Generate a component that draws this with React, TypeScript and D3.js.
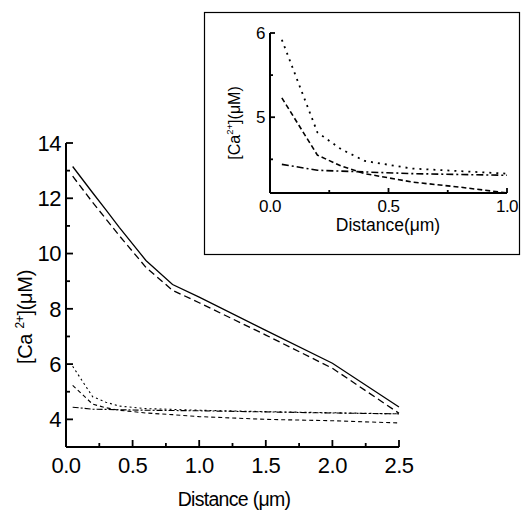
import React, { useRef, useEffect } from 'react';
import * as d3 from 'd3';

// distance (um) sampled along the dendrite
const distances = [0.05, 0.2, 0.3, 0.4, 0.6, 0.8, 1.0, 1.5, 2.0, 2.5];

// [Ca2+] (uM) for each trace
const solidTrace = [13.15, 12.2, 11.58, 10.95, 9.75, 8.88, 8.42, 7.22, 6.03, 4.45];
const longDashTrace = [12.8, 11.85, 11.25, 10.65, 9.5, 8.67, 8.22, 7.05, 5.85, 4.22];
const dottedTrace = [5.92, 4.82, 4.62, 4.48, 4.39, 4.36, 4.33, 4.28, 4.24, 4.2];
const dashedTrace = [5.23, 4.55, 4.42, 4.33, 4.23, 4.17, 4.1, 4.0, 3.95, 3.87];
const dashDotTrace = [4.44, 4.37, 4.36, 4.35, 4.33, 4.32, 4.31, 4.27, 4.23, 4.2];

const mainXTicks = [0, 0.5, 1.0, 1.5, 2.0, 2.5];
const mainXMinor = [0.25, 0.75, 1.25, 1.75, 2.25];
const mainYTicks = [4, 6, 8, 10, 12, 14];
const mainYMinor = [3, 5, 7, 9, 11, 13];

const insetXTicks = [0, 0.5, 1.0];
const insetXMinor = [0.25, 0.75];
const insetYTicks = [5, 6];
const insetYMinor = [4.5, 5.5];

const FONT = '"Liberation Sans", Arial, sans-serif';

type Trace = { values: number[]; dash: string; width: number };

const mainTraces: Trace[] = [
  { values: solidTrace, dash: '', width: 1.3 },
  { values: longDashTrace, dash: '7,4', width: 1.3 },
  { values: dottedTrace, dash: '2,3', width: 1.1 },
  { values: dashedTrace, dash: '4,3', width: 1.1 },
  { values: dashDotTrace, dash: '6,2,2,2', width: 1.1 },
];

const insetTraces: Trace[] = [
  { values: dottedTrace, dash: '2,5', width: 1.8 },
  { values: dashedTrace, dash: '5,3', width: 1.6 },
  { values: dashDotTrace, dash: '7,3,2,3', width: 1.6 },
];

const App = () => {
  const svgRef = useRef<SVGSVGElement>(null);

  useEffect(() => {
    const svg = d3.select(svgRef.current);
    svg.selectAll('*').remove();

    const drawPanel = (
      g: d3.Selection<SVGGElement, unknown, null, undefined>,
      x: d3.ScaleLinear<number, number>,
      y: d3.ScaleLinear<number, number>,
      opts: {
        xTicks: number[]; xMinor: number[]; yTicks: number[]; yMinor: number[];
        traces: Trace[]; maxX: number; fontSize: number;
        major: number; minor: number; xPad: number; yPad: number;
      }
    ) => {
      const [y0, y1] = y.range();
      const [x0, x1] = x.range();

      // axis lines
      g.append('line').attr('x1', x0).attr('x2', x1).attr('y1', y0).attr('y2', y0)
        .attr('stroke', '#000').attr('stroke-width', 2);
      g.append('line').attr('x1', x0).attr('x2', x0).attr('y1', y0).attr('y2', y1)
        .attr('stroke', '#000').attr('stroke-width', 2);

      // ticks pointing into the plot
      const xt = opts.xTicks.map(v => ({ v, len: opts.major }))
        .concat(opts.xMinor.map(v => ({ v, len: opts.minor })));
      g.selectAll('.xtick').data(xt).join('line')
        .attr('class', 'xtick')
        .attr('x1', d => x(d.v)).attr('x2', d => x(d.v))
        .attr('y1', y0).attr('y2', d => y0 - d.len)
        .attr('stroke', '#000').attr('stroke-width', 1.8);
      const yt = opts.yTicks.map(v => ({ v, len: opts.major }))
        .concat(opts.yMinor.map(v => ({ v, len: opts.minor })));
      g.selectAll('.ytick').data(yt).join('line')
        .attr('class', 'ytick')
        .attr('x1', x0).attr('x2', d => x0 + d.len)
        .attr('y1', d => y(d.v)).attr('y2', d => y(d.v))
        .attr('stroke', '#000').attr('stroke-width', 1.8);

      // tick labels
      g.selectAll('.xlab').data(opts.xTicks).join('text')
        .attr('class', 'xlab')
        .attr('x', d => x(d)).attr('y', y0 + opts.xPad)
        .attr('dy', '0.71em')
        .attr('text-anchor', 'middle')
        .attr('font-family', FONT).attr('font-size', opts.fontSize)
        .attr('letter-spacing', -0.5)
        .text(d => d3.format('.1f')(d));
      g.selectAll('.ylab').data(opts.yTicks).join('text')
        .attr('class', 'ylab')
        .attr('x', x0 - opts.yPad).attr('y', d => y(d))
        .attr('dy', '0.35em')
        .attr('text-anchor', 'end')
        .attr('font-family', FONT).attr('font-size', opts.fontSize)
        .attr('letter-spacing', -0.5)
        .text(d => d3.format('d')(d));

      const lineGen = d3.line<[number, number]>()
        .x(d => x(d[0]))
        .y(d => y(d[1]));

      opts.traces.forEach(t => {
        const pts = distances
          .map((d, i) => [d, t.values[i]] as [number, number])
          .filter(p => p[0] <= opts.maxX + 1e-9);
        g.append('path')
          .datum(pts)
          .attr('d', lineGen)
          .attr('fill', 'none')
          .attr('stroke', '#000')
          .attr('stroke-width', t.width)
          .attr('stroke-dasharray', t.dash || null);
      });
    };

    // main panel
    const xMain = d3.scaleLinear().domain([0, 2.5]).range([66, 399]);
    const yMain = d3.scaleLinear().domain([3, 14]).range([447, 143]);
    const main = svg.append('g');
    drawPanel(main, xMain, yMain, {
      xTicks: mainXTicks, xMinor: mainXMinor, yTicks: mainYTicks, yMinor: mainYMinor,
      traces: mainTraces, maxX: 2.5, fontSize: 22,
      major: 7, minor: 4, xPad: 10, yPad: 5,
    });

    // inset panel
    svg.append('rect')
      .attr('x', 204.5).attr('y', 12.5).attr('width', 315).attr('height', 242)
      .attr('fill', '#fff').attr('stroke', '#000').attr('stroke-width', 1.2);
    const xIn = d3.scaleLinear().domain([0, 1]).range([270, 507]);
    const yIn = d3.scaleLinear().domain([4.1, 6]).range([193, 33]);
    const inset = svg.append('g');
    drawPanel(inset, xIn, yIn, {
      xTicks: insetXTicks, xMinor: insetXMinor, yTicks: insetYTicks, yMinor: insetYMinor,
      traces: insetTraces, maxX: 1.0, fontSize: 17,
      major: 5, minor: 3, xPad: 7, yPad: 5,
    });

    // axis titles
    const addTitle = (
      xPos: number, yPos: number, size: number, rotate: boolean, spacing: number,
      parts: { t: string; sup?: boolean }[]
    ) => {
      const text = svg.append('text')
        .attr('transform', `translate(${xPos},${yPos})${rotate ? ' rotate(-90)' : ''}`)
        .attr('text-anchor', 'middle')
        .attr('font-family', FONT)
        .attr('font-size', size)
        .attr('letter-spacing', spacing)
        .attr('fill', '#000');
      parts.forEach(p => {
        const span = text.append('tspan').text(p.t);
        if (p.sup) span.attr('font-size', size * 0.6).attr('baseline-shift', '70%');
      });
    };

    addTitle(234, 506, 19.5, false, -0.7, [{ t: 'Distance (\u03bcm)' }]);
    addTitle(32, 317, 20, true, -0.3, [{ t: '[Ca ' }, { t: '2+', sup: true }, { t: '](\u03bcM)' }]);
    addTitle(388, 231, 17.5, false, 0, [{ t: 'Distance(\u03bcm)' }]);
    addTitle(240, 123, 16, true, 0, [{ t: '[Ca' }, { t: '2+', sup: true }, { t: '](\u03bcM)' }]);
  }, []);

  return (
    <svg
      ref={svgRef}
      width={521}
      height={512}
      style={{ position: 'absolute', left: 0, top: 0, background: '#fff' }}
    />
  );
};

export default App;
